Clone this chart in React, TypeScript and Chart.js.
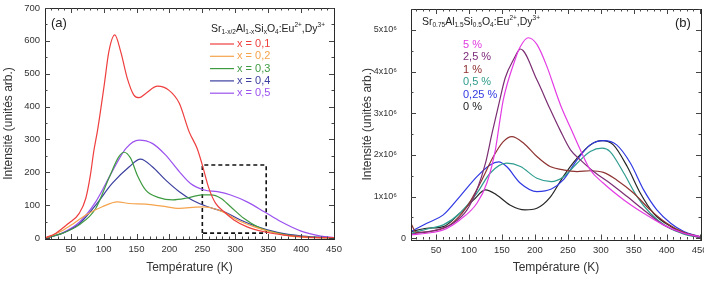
import React, { useEffect, useRef } from 'react';
import { Chart, registerables } from 'chart.js';

Chart.register(...registerables);

const FONT = "'Liberation Sans', Arial, Helvetica, sans-serif";

// ---------- Panel (a): Sr1-x/2Al1-xSixO4:Eu2+,Dy3+ ----------
const tempA01 = [12, 27, 47, 63, 73, 80, 85, 91, 101, 108, 117, 126, 136, 146, 154, 164, 182, 199, 215, 230, 242, 250, 260, 270, 283, 298, 318, 344, 374, 409, 450];
const intA01 = [1, 14, 45, 75, 121, 192, 263, 330, 466, 567, 618, 567, 486, 435, 427, 440, 462, 450, 410, 323, 273, 222, 151, 106, 80, 55, 34, 19, 9, 3, 1];

const tempA02 = [12, 37, 55, 73, 98, 121, 139, 164, 189, 215, 240, 250, 263, 283, 303, 329, 354, 384, 420, 450];
const intA02 = [0, 22, 45, 70, 95, 110, 105, 103, 97, 90, 94, 95, 92, 78, 55, 34, 19, 6, 1, 0];

const tempA03 = [12, 37, 63, 88, 108, 123, 131, 141, 151, 164, 184, 205, 225, 240, 250, 263, 278, 293, 313, 334, 359, 397, 450];
const intA03 = [0, 14, 40, 90, 182, 247, 261, 243, 192, 146, 123, 116, 121, 128, 131, 131, 121, 95, 60, 34, 17, 5, 0];

const tempA04 = [12, 37, 63, 88, 113, 139, 156, 174, 194, 215, 235, 258, 283, 308, 334, 364, 402, 450];
const intA04 = [0, 14, 43, 100, 166, 217, 240, 217, 177, 141, 115, 95, 80, 55, 34, 17, 6, 0];

const tempA05 = [12, 37, 63, 88, 113, 134, 154, 174, 194, 215, 232, 253, 273, 293, 318, 344, 369, 400, 430, 450];
const intA05 = [0, 15, 48, 110, 202, 273, 298, 288, 253, 202, 166, 146, 141, 131, 110, 80, 50, 21, 6, 1];

// dashed zoom box
const boxTemp = [250, 250, 347, 347, 250];
const boxInt = [15, 222, 222, 15, 15];

const seriesA = [
  { label: 'x = 0,1', color: '#ef3e3e', temp: tempA01, val: intA01 },
  { label: 'x = 0,2', color: '#f5a34c', temp: tempA02, val: intA02 },
  { label: 'x = 0,3', color: '#3f9b41', temp: tempA03, val: intA03 },
  { label: 'x = 0,4', color: '#3b3f9e', temp: tempA04, val: intA04 },
  { label: 'x = 0,5', color: '#9b52ee', temp: tempA05, val: intA05 },
];

// ---------- Panel (b): Sr0.75Al1.5Si0.5O4:Eu2+,Dy3+ (values in 10^6) ----------
const tempB5 = [12, 36, 61, 86, 112, 127, 140, 147, 152, 170, 178, 190, 203, 218, 233, 240, 254, 269, 284, 304, 335, 365, 395, 426, 450];
const intB5 = [0.08, 0.12, 0.2, 0.44, 0.84, 1.32, 2.12, 2.84, 3.32, 4.29, 4.6, 4.81, 4.65, 4.13, 3.45, 3.15, 2.65, 2.12, 1.64, 1.32, 0.92, 0.6, 0.32, 0.12, 0.04];

const tempB25 = [12, 21, 51, 76, 97, 112, 125, 135, 145, 155, 168, 178, 203, 223, 238, 254, 269, 289, 314, 340, 365, 395, 426, 450];
const intB25 = [0.1, 0.12, 0.2, 0.36, 0.68, 1.16, 1.8, 2.52, 3.2, 3.85, 4.3, 4.54, 3.8, 3.1, 2.6, 2.12, 1.88, 1.6, 1.32, 1.0, 0.68, 0.32, 0.12, 0.02];

const tempB1 = [13, 20, 41, 71, 97, 117, 137, 152, 165, 183, 203, 223, 243, 264, 284, 304, 324, 350, 375, 400, 426, 450];
const intB1 = [0.32, 0.14, 0.16, 0.32, 0.76, 1.32, 1.96, 2.32, 2.44, 2.28, 1.96, 1.72, 1.64, 1.6, 1.62, 1.58, 1.4, 1.08, 0.68, 0.36, 0.14, 0.04];

const tempB05 = [12, 41, 61, 86, 112, 132, 157, 178, 203, 225, 243, 264, 284, 302, 314, 335, 355, 375, 400, 426, 450];
const intB05 = [0.12, 0.24, 0.32, 0.6, 1.08, 1.56, 1.8, 1.72, 1.44, 1.36, 1.47, 1.8, 2.08, 2.16, 2.08, 1.56, 1.0, 0.6, 0.28, 0.1, 0.02];

const tempB025 = [12, 36, 61, 86, 112, 132, 145, 157, 178, 203, 225, 243, 264, 284, 304, 324, 345, 365, 385, 406, 426, 450];
const intB025 = [0.16, 0.36, 0.56, 1.0, 1.48, 1.76, 1.83, 1.72, 1.32, 1.12, 1.18, 1.4, 1.88, 2.24, 2.34, 2.24, 1.8, 1.16, 0.68, 0.36, 0.16, 0.04];

const tempB0 = [12, 36, 61, 86, 107, 125, 142, 162, 185, 203, 223, 243, 264, 284, 302, 319, 340, 360, 380, 406, 426, 450];
const intB0 = [0.16, 0.24, 0.28, 0.6, 0.92, 1.16, 1.04, 0.8, 0.68, 0.72, 0.98, 1.48, 1.92, 2.24, 2.34, 2.24, 1.72, 1.08, 0.6, 0.28, 0.12, 0.02];

const seriesB = [
  { label: '5 %', color: '#e43ce4', text: '#e03ce0', temp: tempB5, val: intB5 },
  { label: '2,5 %', color: '#7b2d73', text: '#7b2a78', temp: tempB25, val: intB25 },
  { label: '1 %', color: '#8e3432', text: '#8e2e2e', temp: tempB1, val: intB1 },
  { label: '0,5 %', color: '#2f9d8f', text: '#2e9c8c', temp: tempB05, val: intB05 },
  { label: '0,25 %', color: '#3039e2', text: '#2f3ae0', temp: tempB025, val: intB025 },
  { label: '0 %', color: '#262626', text: '#222222', temp: tempB0, val: intB0 },
];

// axis ticks
const tempTicks = [50, 100, 150, 200, 250, 300, 350, 400, 450];
const intTicksA = [0, 100, 200, 300, 400, 500, 600, 700];
const intTicksB = [0, 1, 2, 3, 4, 5];
const intLabelsB = ['0', '1x10\u2076', '2x10\u2076', '3x10\u2076', '4x10\u2076', '5x10\u2076'];

type Seg = { t: string; s?: 'sub' | 'sup' };

function drawRich(ctx: CanvasRenderingContext2D, segs: Seg[], x: number, y: number, size: number, color: string) {
  let cx = x;
  ctx.fillStyle = color;
  ctx.textBaseline = 'middle';
  ctx.textAlign = 'left';
  for (const seg of segs) {
    const sz = seg.s ? size * 0.62 : size;
    ctx.font = `${sz}px ${FONT}`;
    const dy = seg.s === 'sub' ? size * 0.32 : seg.s === 'sup' ? -size * 0.36 : 0;
    ctx.fillText(seg.t, cx, y + dy);
    cx += ctx.measureText(seg.t).width;
  }
}

// axis frame with inward ticks on all four sides
const framePlugin = {
  id: 'frame',
  afterDatasetsDraw(chart: any, _args: any, opts: any) {
    const { ctx, chartArea: a, scales } = chart;
    const xs = scales.x;
    const ys = scales.y;
    ctx.save();
    ctx.strokeStyle = '#2a2a2a';
    ctx.lineWidth = 1;
    ctx.strokeRect(Math.round(a.left) + 0.5, Math.round(a.top) + 0.5, Math.round(a.right - a.left), Math.round(a.bottom - a.top));
    ctx.strokeStyle = '#444';
    const drawX = (v: number, len: number) => {
      const px = Math.round(xs.getPixelForValue(v)) + 0.5;
      if (px < a.left || px > a.right) return;
      ctx.beginPath();
      ctx.moveTo(px, a.bottom);
      ctx.lineTo(px, a.bottom - len);
      ctx.moveTo(px, a.top);
      ctx.lineTo(px, a.top + len);
      ctx.stroke();
    };
    const drawY = (v: number, len: number) => {
      const py = Math.round(ys.getPixelForValue(v)) + 0.5;
      if (py < a.top || py > a.bottom) return;
      ctx.beginPath();
      ctx.moveTo(a.left, py);
      ctx.lineTo(a.left + len, py);
      ctx.moveTo(a.right, py);
      ctx.lineTo(a.right - len, py);
      ctx.stroke();
    };
    for (let v = opts.xMinorStart; v <= xs.max; v += opts.xMinorStep) drawX(v, 2.5);
    for (const v of opts.xMajor) drawX(v, 5);
    for (let v = opts.yMinorStart; v <= ys.max; v += opts.yMinorStep) drawY(v, 2.5);
    for (const v of opts.yMajor) drawY(v, 5);
    ctx.restore();
  },
};

const notesPlugin = {
  id: 'notes',
  afterDraw(chart: any, _args: any, opts: any) {
    const { ctx } = chart;
    ctx.save();
    opts.draw(ctx, chart.chartArea);
    ctx.restore();
  },
};

function lineDs(label: string, color: string, temp: number[], val: number[]) {
  return {
    label,
    data: temp.map((t, i) => ({ x: t, y: val[i] })),
    borderColor: color,
    backgroundColor: color,
    borderWidth: 1.2,
    pointRadius: 0,
    fill: false,
    cubicInterpolationMode: 'monotone' as const,
  };
}

function baseScales(opt: {
  xMin: number; xMax: number; yMin: number; yMax: number; yTicks: number[];
  yLabel: (v: number, i: number) => string; yWidth: number; xHeight: number; yTitlePad: number; yTickSize: number;
}) {
  return {
    x: {
      type: 'linear' as const,
      min: opt.xMin,
      max: opt.xMax,
      afterBuildTicks: (s: any) => { s.ticks = tempTicks.map((v) => ({ value: v })); },
      afterFit: (s: any) => { s.height = opt.xHeight; s.paddingLeft = 0; s.paddingRight = 0; },
      grid: { display: false, drawTicks: false },
      border: { display: false },
      ticks: { color: '#333', font: { size: 9.5, family: FONT }, padding: 5, maxRotation: 0, autoSkip: false },
      title: { display: true, text: 'Température (K)', color: '#333', font: { size: 12, family: FONT }, padding: { top: 0, bottom: 6 } },
    },
    y: {
      type: 'linear' as const,
      min: opt.yMin,
      max: opt.yMax,
      afterBuildTicks: (s: any) => { s.ticks = opt.yTicks.map((v) => ({ value: v })); },
      afterFit: (s: any) => { s.width = opt.yWidth; s.paddingTop = 0; s.paddingBottom = 0; },
      grid: { display: false, drawTicks: false },
      border: { display: false },
      ticks: {
        color: '#333', font: { size: opt.yTickSize, family: FONT }, padding: 5, autoSkip: false,
        callback: (v: any, i: number) => opt.yLabel(Number(v), i),
      },
      title: { display: true, text: 'Intensité (unités arb.)', color: '#333', font: { size: 12, family: FONT }, padding: { top: opt.yTitlePad, bottom: 0 } },
    },
  };
}

function configA(): any {
  const datasets: any[] = seriesA.map((s) => lineDs(s.label, s.color, s.temp, s.val));
  datasets.push({
    label: 'zone',
    data: boxTemp.map((t, i) => ({ x: t, y: boxInt[i] })),
    borderColor: '#111',
    borderWidth: 1.6,
    borderDash: [4, 3],
    pointRadius: 0,
    tension: 0,
    fill: false,
  });
  return {
    type: 'line',
    data: { datasets },
    plugins: [framePlugin, notesPlugin],
    options: {
      responsive: false,
      animation: false,
      devicePixelRatio: 1,
      layout: { padding: { left: 0, top: 8, right: 26, bottom: 0 } },
      scales: baseScales({
        xMin: 11, xMax: 450, yMin: -3, yMax: 700, yTicks: intTicksA,
        yLabel: (v) => String(v), yWidth: 45, xHeight: 42, yTitlePad: 1, yTickSize: 9.5,
      }),
      plugins: {
        legend: { display: false },
        tooltip: { enabled: false },
        frame: { xMajor: tempTicks, xMinorStart: 20, xMinorStep: 10, yMajor: intTicksA, yMinorStart: 50, yMinorStep: 100 },
        notes: {
          draw: (ctx: CanvasRenderingContext2D) => {
            drawRich(ctx, [{ t: '(a)' }], 51, 23, 13, '#222');
            drawRich(ctx, [
              { t: 'Sr' }, { t: '1-x/2', s: 'sub' }, { t: 'Al' }, { t: '1-x', s: 'sub' }, { t: 'Si' }, { t: 'x', s: 'sub' },
              { t: 'O' }, { t: '4', s: 'sub' }, { t: ':Eu' }, { t: '2+', s: 'sup' }, { t: ',Dy' }, { t: '3+', s: 'sup' },
            ], 211, 29, 10.5, '#222');
            seriesA.forEach((s, i) => {
              const y = 44 + i * 12.3;
              ctx.strokeStyle = s.color;
              ctx.lineWidth = 1.2;
              ctx.beginPath();
              ctx.moveTo(210, y);
              ctx.lineTo(234, y);
              ctx.stroke();
              drawRich(ctx, [{ t: s.label }], 237, y, 11, s.color);
            });
          },
        },
      },
    },
  };
}

function configB(): any {
  const datasets: any[] = seriesB.map((s) => lineDs(s.label, s.color, s.temp, s.val));
  return {
    type: 'line',
    data: { datasets },
    plugins: [framePlugin, notesPlugin],
    options: {
      responsive: false,
      animation: false,
      devicePixelRatio: 1,
      layout: { padding: { left: 0, top: 9, right: 3, bottom: 0 } },
      scales: baseScales({
        xMin: 12, xMax: 452, yMin: -0.03, yMax: 5.5, yTicks: intTicksB,
        yLabel: (_v, i) => (i === 0 ? intLabelsB[i] : intLabelsB[i] + '\u2002\u2002'),
        yWidth: 51, xHeight: 41.5, yTitlePad: 0, yTickSize: 9,
      }),
      plugins: {
        legend: { display: false },
        tooltip: { enabled: false },
        frame: { xMajor: tempTicks, xMinorStart: 20, xMinorStep: 10, yMajor: intTicksB, yMinorStart: 0.5, yMinorStep: 1 },
        notes: {
          draw: (ctx: CanvasRenderingContext2D) => {
            drawRich(ctx, [{ t: '(b)' }], 315, 23, 13, '#222');
            drawRich(ctx, [
              { t: 'Sr' }, { t: '0.75', s: 'sub' }, { t: 'Al' }, { t: '1.5', s: 'sub' }, { t: 'Si' }, { t: '0.5', s: 'sub' },
              { t: 'O' }, { t: '4', s: 'sub' }, { t: ':Eu' }, { t: '2+', s: 'sup' }, { t: ',Dy' }, { t: '3+', s: 'sup' },
            ], 62, 22, 10.5, '#222');
            seriesB.forEach((s, i) => {
              drawRich(ctx, [{ t: s.label }], 103, 45 + i * 12.4, 11, s.text);
            });
          },
        },
      },
    },
  };
}

export default function App() {
  const refA = useRef<HTMLCanvasElement>(null);
  const refB = useRef<HTMLCanvasElement>(null);

  useEffect(() => {
    Chart.defaults.font.family = FONT;
    const a = new Chart(refA.current!, configA());
    const b = new Chart(refB.current!, configB());
    return () => {
      a.destroy();
      b.destroy();
    };
  }, []);

  return (
    <div style={{ position: 'fixed', left: 0, top: 0, width: 704, height: 281, background: '#fff', overflow: 'hidden' }}>
      <canvas ref={refA} width={360} height={281} style={{ position: 'absolute', left: 0, top: 0, width: 360, height: 281 }} />
      <canvas ref={refB} width={344} height={281} style={{ position: 'absolute', left: 360, top: 0, width: 344, height: 281 }} />
    </div>
  );
}
